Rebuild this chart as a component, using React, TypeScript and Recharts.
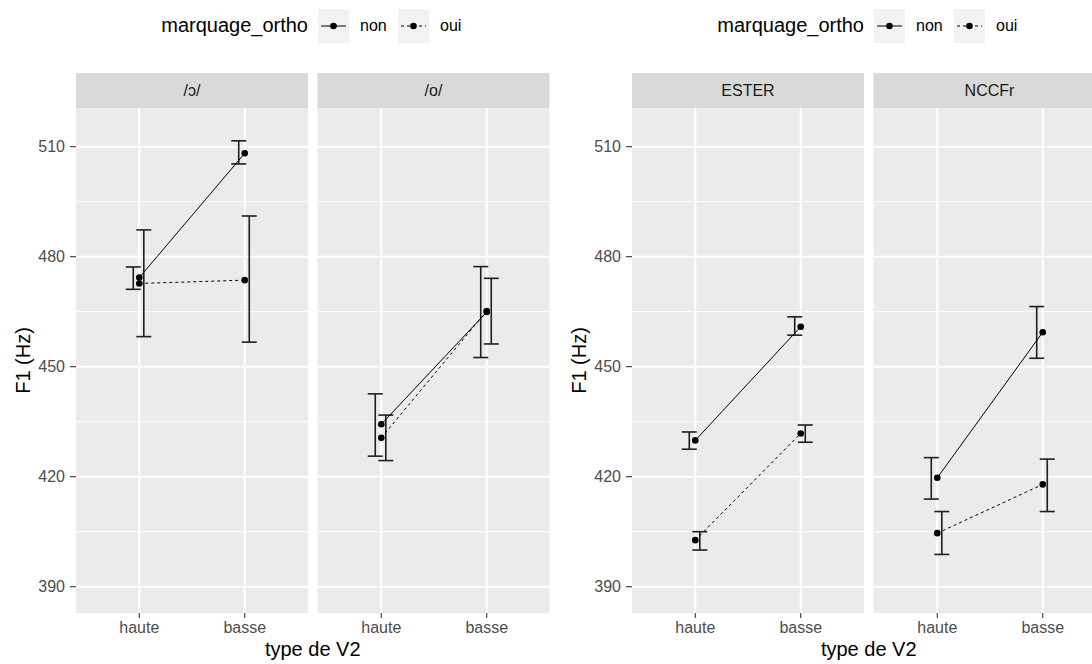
import React from 'react';
import { ComposedChart, Scatter, XAxis, YAxis, ErrorBar, ReferenceLine } from 'recharts';

// ---------- data ----------
const categories = ['haute', 'basse'];
const yTicks = [390, 420, 450, 480, 510];
const yMinorTicks = [405, 435, 465, 495];
const legendTitle = 'marquage_ortho';
const groupLabels = ['non', 'oui'];
const leftFacets = ['/ɔ/', '/o/'];
const rightFacets = ['ESTER', 'NCCFr'];
const yTitle = 'F1 (Hz)';
const xTitle = 'type de V2';

// facet /ɔ/
const openNonMean = [474.3, 508.2];
const openNonLow = [471.1, 505.3];
const openNonHigh = [477.2, 511.6];
const openOuiMean = [472.7, 473.6];
const openOuiLow = [458.2, 456.7];
const openOuiHigh = [487.3, 491.1];

// facet /o/
const closedNonMean = [434.3, 464.9];
const closedNonLow = [425.6, 452.5];
const closedNonHigh = [442.6, 477.3];
const closedOuiMean = [430.6, 465.2];
const closedOuiLow = [424.4, 456.2];
const closedOuiHigh = [436.8, 474.1];

// facet ESTER
const esterNonMean = [429.9, 460.9];
const esterNonLow = [427.5, 458.6];
const esterNonHigh = [432.2, 463.6];
const esterOuiMean = [402.7, 431.8];
const esterOuiLow = [400.0, 429.4];
const esterOuiHigh = [405.0, 434.1];

// facet NCCFr
const nccfNonMean = [419.7, 459.4];
const nccfNonLow = [413.9, 452.3];
const nccfNonHigh = [425.2, 466.4];
const nccfOuiMean = [404.6, 417.9];
const nccfOuiLow = [398.8, 410.5];
const nccfOuiHigh = [410.5, 424.8];

// ---------- styling / layout ----------
const FONT = '"Liberation Sans", Arial, Helvetica, sans-serif';
const Y_DOMAIN: [number, number] = [382.83, 520.55];
const X_DOMAIN: [number, number] = [0.4, 2.6];
const DODGE_NON = -0.057;
const DODGE_OUI = 0.043;
const PANEL_W = 232;
const PANEL_TOP = 108;
const PANEL_H = 505;
const STRIP_TOP = 73;
const Y_AXIS_W = 76;
const PLOT_OFFSETS = [0, 556];
const PANEL_LEFTS = [76, 317.5];

type Series = { mean: number[]; low: number[]; high: number[] };

const catPositions = categories.map((_, i) => i + 1);

const buildPoints = (s: Series, dodge: number) =>
  categories.map((c, i) => ({
    x: i + 1 + dodge,
    y: s.mean[i],
    err: [s.mean[i] - s.low[i], s.high[i] - s.mean[i]],
    cat: c,
  }));

const Dot = (props: any) => <circle cx={props.cx} cy={props.cy} r={3.3} fill="#000" />;
const NoShape = () => <g />;

function Panel({ left, showY, non, oui }: { left: number; showY: boolean; non: Series; oui: Series }) {
  const yW = showY ? Y_AXIS_W : 0;
  const nonErr = buildPoints(non, DODGE_NON);
  const ouiErr = buildPoints(oui, DODGE_OUI);
  const nonPts = buildPoints(non, 0);
  const ouiPts = buildPoints(oui, 0);
  const tickStyle = { fill: '#4d4d4d', fontSize: 16, fontFamily: FONT };
  return (
    <div style={{ position: 'absolute', left: left - yW, top: PANEL_TOP }}>
      <ComposedChart width={PANEL_W + yW} height={PANEL_H + 40} margin={{ top: 0, right: 0, bottom: 0, left: 0 }}>
        <XAxis
          type="number"
          dataKey="x"
          domain={X_DOMAIN}
          ticks={catPositions}
          interval={0}
          allowDataOverflow
          axisLine={false}
          tickSize={5}
          tickMargin={4}
          tickLine={{ stroke: '#333333', strokeWidth: 1.1 }}
          tick={tickStyle}
          tickFormatter={(v: number) => categories[Math.round(v) - 1] ?? ''}
          height={40}
        />
        <YAxis
          type="number"
          dataKey="y"
          domain={Y_DOMAIN}
          ticks={yTicks}
          interval={0}
          allowDataOverflow
          hide={!showY}
          width={yW || 1}
          axisLine={false}
          tickSize={6}
          tickMargin={5}
          tickLine={{ stroke: '#333333', strokeWidth: 1.1 }}
          tick={tickStyle}
        />
        {yMinorTicks.map((v) => (
          <ReferenceLine key={'m' + v} y={v} stroke="#ffffff" strokeWidth={1} />
        ))}
        {yTicks.map((v) => (
          <ReferenceLine key={'M' + v} y={v} stroke="#ffffff" strokeWidth={2} />
        ))}
        {catPositions.map((v) => (
          <ReferenceLine key={'v' + v} x={v} stroke="#ffffff" strokeWidth={2} />
        ))}
        <Scatter data={nonErr} shape={NoShape} isAnimationActive={false}>
          <ErrorBar dataKey="err" direction="y" width={7.5} stroke="#1f1f1f" strokeWidth={1.6} isAnimationActive={false} />
        </Scatter>
        <Scatter data={ouiErr} shape={NoShape} isAnimationActive={false}>
          <ErrorBar dataKey="err" direction="y" width={7.5} stroke="#1f1f1f" strokeWidth={1.6} isAnimationActive={false} />
        </Scatter>
        <Scatter
          data={nonPts}
          shape={Dot}
          line={{ stroke: '#000', strokeWidth: 1 }}
          isAnimationActive={false}
        />
        <Scatter
          data={ouiPts}
          shape={Dot}
          line={{ stroke: '#000', strokeWidth: 1, strokeDasharray: '3 3' }}
          isAnimationActive={false}
        />
      </ComposedChart>
    </div>
  );
}

const plotsFacets = [leftFacets, rightFacets];
const plotsSeries: { non: Series; oui: Series }[][] = [
  [
    { non: { mean: openNonMean, low: openNonLow, high: openNonHigh }, oui: { mean: openOuiMean, low: openOuiLow, high: openOuiHigh } },
    { non: { mean: closedNonMean, low: closedNonLow, high: closedNonHigh }, oui: { mean: closedOuiMean, low: closedOuiLow, high: closedOuiHigh } },
  ],
  [
    { non: { mean: esterNonMean, low: esterNonLow, high: esterNonHigh }, oui: { mean: esterOuiMean, low: esterOuiLow, high: esterOuiHigh } },
    { non: { mean: nccfNonMean, low: nccfNonLow, high: nccfNonHigh }, oui: { mean: nccfOuiMean, low: nccfOuiLow, high: nccfOuiHigh } },
  ],
];

function Overlay() {
  return (
    <svg width={1092} height={664} style={{ position: 'absolute', left: 0, top: 0 }}>
      {PLOT_OFFSETS.map((off, pi) => {
        const pLeft = PANEL_LEFTS[0] + off;
        const pRight = PANEL_LEFTS[1] + off + PANEL_W;
        const keyXs = [318 + off, 398 + off];
        return (
          <g key={pi} fontFamily={FONT}>
            {/* legend */}
            <text x={308 + off} y={31.5} fontSize={20} textAnchor="end" fill="#000">
              {legendTitle}
            </text>
            {groupLabels.map((g, gi) => (
              <g key={g}>
                <rect x={keyXs[gi]} y={9} width={31} height={34} fill="#f2f2f2" />
                <line
                  x1={keyXs[gi] + 3}
                  x2={keyXs[gi] + 28}
                  y1={26}
                  y2={26}
                  stroke="#000"
                  strokeWidth={1}
                  strokeDasharray={gi === 1 ? '3 3' : undefined}
                />
                <circle cx={keyXs[gi] + 15.5} cy={26} r={3.3} fill="#000" />
                <text x={keyXs[gi] + 42} y={31} fontSize={16} fill="#000">
                  {g}
                </text>
              </g>
            ))}
            {/* panels background + strips */}
            {PANEL_LEFTS.map((pl, fi) => (
              <g key={fi}>
                <rect x={pl + off} y={STRIP_TOP} width={PANEL_W} height={PANEL_TOP - STRIP_TOP} fill="#d9d9d9" />
                <text x={pl + off + PANEL_W / 2} y={96} fontSize={16} textAnchor="middle" fill="#1a1a1a">
                  {plotsFacets[pi][fi]}
                </text>
                <rect x={pl + off} y={PANEL_TOP} width={PANEL_W} height={PANEL_H} fill="#ebebeb" />
              </g>
            ))}
            {/* axis titles */}
            <text x={(pLeft + pRight) / 2} y={656} fontSize={20} textAnchor="middle" fill="#000">
              {xTitle}
            </text>
            <text
              transform={`translate(${30 + off}, ${PANEL_TOP + PANEL_H / 2}) rotate(-90)`}
              fontSize={20}
              textAnchor="middle"
              fill="#000"
            >
              {yTitle}
            </text>
          </g>
        );
      })}
    </svg>
  );
}

export default function App() {
  return (
    <div
      style={{
        position: 'absolute',
        left: 0,
        top: 0,
        width: 1092,
        height: 664,
        overflow: 'hidden',
        background: '#fff',
        fontFamily: FONT,
      }}
    >
      <Overlay />
      {PLOT_OFFSETS.map((off, pi) =>
        PANEL_LEFTS.map((pl, fi) => (
          <Panel
            key={pi + '-' + fi}
            left={pl + off}
            showY={fi === 0}
            non={plotsSeries[pi][fi].non}
            oui={plotsSeries[pi][fi].oui}
          />
        ))
      )}
    </div>
  );
}
